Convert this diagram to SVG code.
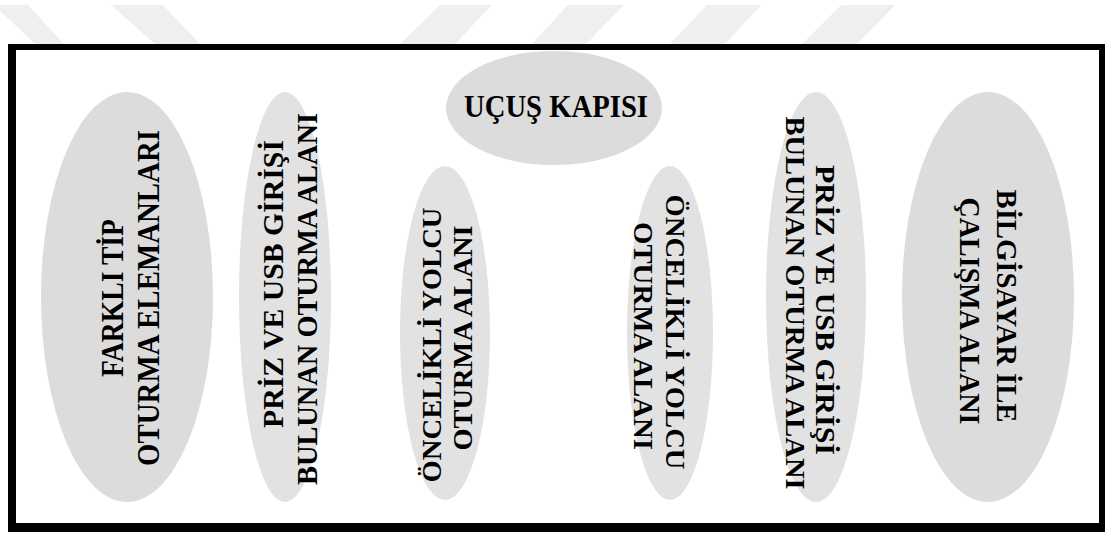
<svg xmlns="http://www.w3.org/2000/svg" width="1109" height="533" viewBox="0 0 1109 533">
  <style>
    .zone { fill: #dcdcdc; }
    .zone-lt { fill: #e2e2e2; }
    .lbl { font-family: "Liberation Serif", "Times New Roman", serif; font-weight: bold; fill: #000; text-anchor: middle; }
    .stripe { fill: #efefef; }
  </style>

  <rect width="1109" height="533" fill="#ffffff"/>

  <!-- faint stripes along the top edge -->
  <g id="stripes">
    <polygon class="stripe" points="-6,5 28,5 64,44 35,44"/>
    <polygon class="stripe" points="111,5 163,5 200,44 155,44"/>
    <polygon class="stripe" points="440,5 492,5 455,44 400,44"/>
    <polygon class="stripe" points="568,5 624,5 586,44 532,44"/>
    <polygon class="stripe" points="707,5 761,5 725,44 670,44"/>
    <polygon class="stripe" points="841,5 895,5 857,44 802,44"/>
  </g>

  <!-- terminal outline -->
  <g id="frame">
    <rect x="8" y="44" width="1097" height="488" fill="#000"/>
    <rect x="16" y="50" width="1083" height="473" fill="#fff"/>
  </g>

  <g id="gate">
    <ellipse class="zone" cx="554" cy="108" rx="108" ry="57"/>
    <text class="lbl" x="556" y="117" font-size="31" textLength="184" lengthAdjust="spacingAndGlyphs">UÇUŞ KAPISI</text>
  </g>

  <g id="mixed-seating">
    <ellipse class="zone" cx="127" cy="297" rx="86" ry="205"/>
    <text class="lbl" font-size="32" transform="translate(123,298) rotate(-90)" textLength="158" lengthAdjust="spacingAndGlyphs">FARKLI TİP</text>
    <text class="lbl" font-size="32" transform="translate(159,298) rotate(-90)" textLength="336" lengthAdjust="spacingAndGlyphs">OTURMA ELEMANLARI</text>
  </g>

  <g id="charging-left">
    <ellipse class="zone-lt" cx="285" cy="297" rx="46" ry="205"/>
    <text class="lbl" font-size="29" transform="translate(283,284) rotate(-90)" textLength="288" lengthAdjust="spacingAndGlyphs">PRİZ VE USB GİRİŞİ</text>
    <text class="lbl" font-size="29" transform="translate(317,299) rotate(-90)" textLength="372" lengthAdjust="spacingAndGlyphs">BULUNAN OTURMA ALANI</text>
  </g>

  <g id="priority-left">
    <ellipse class="zone-lt" cx="445" cy="333" rx="45" ry="167"/>
    <text class="lbl" font-size="28" transform="translate(441,345) rotate(-90)" textLength="275" lengthAdjust="spacingAndGlyphs">ÖNCELİKLİ YOLCU</text>
    <text class="lbl" font-size="28" transform="translate(472,338) rotate(-90)" textLength="225" lengthAdjust="spacingAndGlyphs">OTURMA ALANI</text>
  </g>

  <g id="priority-right">
    <ellipse class="zone-lt" cx="670" cy="333" rx="43" ry="167"/>
    <text class="lbl" font-size="28" transform="translate(666,332) rotate(90)" textLength="275" lengthAdjust="spacingAndGlyphs">ÖNCELİKLİ YOLCU</text>
    <text class="lbl" font-size="28" transform="translate(634,336) rotate(90)" textLength="228" lengthAdjust="spacingAndGlyphs">OTURMA ALANI</text>
  </g>

  <g id="charging-right">
    <ellipse class="zone-lt" cx="816" cy="297" rx="50" ry="205"/>
    <text class="lbl" font-size="28" transform="translate(816,310) rotate(90)" textLength="290" lengthAdjust="spacingAndGlyphs">PRİZ VE USB GİRİŞİ</text>
    <text class="lbl" font-size="28" transform="translate(786,303) rotate(90)" textLength="373" lengthAdjust="spacingAndGlyphs">BULUNAN OTURMA ALANI</text>
  </g>

  <g id="laptop-area">
    <ellipse class="zone" cx="988" cy="297" rx="86" ry="205"/>
    <text class="lbl" font-size="30" transform="translate(997,306) rotate(90)" textLength="233" lengthAdjust="spacingAndGlyphs">BİLGİSAYAR İLE</text>
    <text class="lbl" font-size="30" transform="translate(960,311) rotate(90)" textLength="227" lengthAdjust="spacingAndGlyphs">ÇALIŞMA ALANI</text>
  </g>
</svg>
